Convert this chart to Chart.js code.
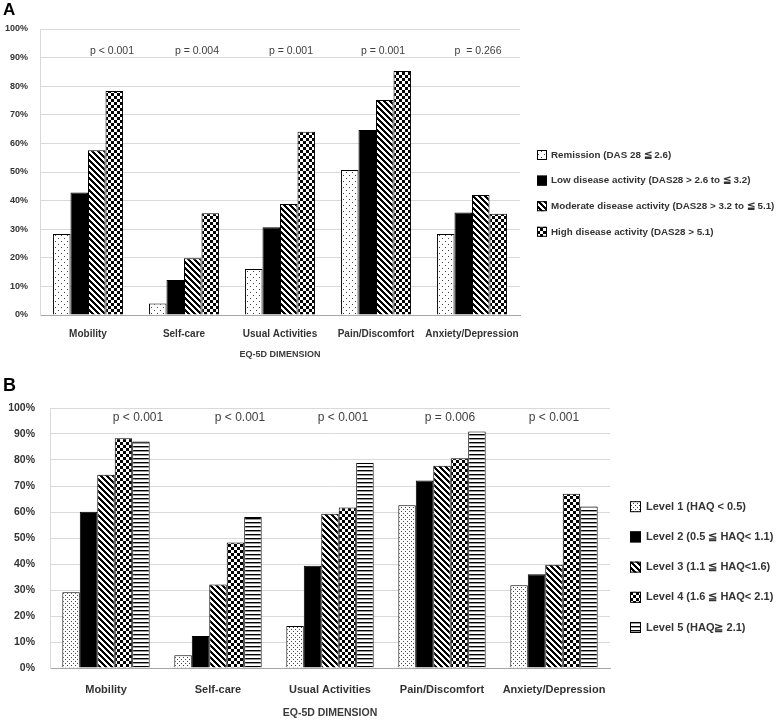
<!DOCTYPE html>
<html>
<head>
<meta charset="utf-8">
<script src="https://cdn.jsdelivr.net/npm/chart.js@4.4.1/dist/chart.umd.min.js"></script>
<style>
  html, body { margin: 0; padding: 0; background: #fff; }
  body { width: 778px; height: 722px; position: relative; overflow: hidden; font-family: "Liberation Sans", Arial, sans-serif; }
  .panel { position: absolute; left: 0; width: 778px; }
  #panelA { top: 0; height: 370px; }
  #panelB { top: 370px; height: 352px; }
  .tag { position: absolute; left: 3px; font-weight: bold; color: #000; line-height: 1; }
</style>
</head>
<body>
<div class="panel" id="panelA">
  <canvas id="chartA"></canvas>
  <div class="tag" style="top:1px;font-size:17px">A</div>
</div>
<div class="panel" id="panelB">
  <canvas id="chartB"></canvas>
  <div class="tag" style="top:6px;font-size:18px">B</div>
</div>
<script>
// Data (percent of patients reporting problems)
const dimensions = ['Mobility', 'Self-care', 'Usual Activities', 'Pain/Discomfort', 'Anxiety/Depression']

// A: DAS28 disease activity
const remission = [28.3, 4.0, 16.1, 50.7, 28.3]
const lowActivity = [42.8, 12.2, 30.7, 64.7, 35.8]
const moderateActivity = [57.6, 19.8, 38.8, 75.2, 42.0]
const highActivity = [78.3, 35.6, 64.1, 85.3, 35.4]
const dasLabels = [
  'Remission (DAS 28 \u2266 2.6)',
  'Low disease activity (DAS28 > 2.6 to \u2266 3.2)',
  'Moderate disease activity (DAS28 > 3.2 to \u2266 5.1)',
  'High disease activity (DAS28 > 5.1)'
]
const pValuesA = ['p < 0.001', 'p = 0.004', 'p = 0.001', 'p = 0.001', 'p  = 0.266']

// B: HAQ levels
const haqLevel1 = [29.1, 4.9, 16.2, 62.6, 31.8]
const haqLevel2 = [60.1, 12.3, 39.3, 72.1, 36.1]
const haqLevel3 = [74.3, 32.1, 59.3, 77.8, 39.7]
const haqLevel4 = [88.4, 48.3, 61.7, 80.7, 67.0]
const haqLevel5 = [87.1, 58.1, 78.8, 91.0, 62.1]
const haqLabels = [
  'Level 1 (HAQ < 0.5)',
  'Level 2 (0.5 \u2266 HAQ< 1.1)',
  'Level 3 (1.1 \u2266 HAQ<1.6)',
  'Level 4 (1.6 \u2266 HAQ< 2.1)',
  'Level 5 (HAQ\u2267 2.1)'
]
const pValuesB = ['p < 0.001', 'p < 0.001', 'p < 0.001', 'p = 0.006', 'p < 0.001']

const yTicks = [0, 10, 20, 30, 40, 50, 60, 70, 80, 90, 100]

Chart.defaults.font.family = '"Liberation Sans", Arial, sans-serif'

// fill patterns
function makePattern(size, draw) {
  const c = document.createElement('canvas')
  c.width = size
  c.height = size
  const g = c.getContext('2d')
  g.fillStyle = '#fff'
  g.fillRect(0, 0, size, size)
  g.fillStyle = '#000'
  draw(g, size)
  return g.createPattern(c, 'repeat')
}
const sparseDots = makePattern(6, g => { g.fillStyle = '#444'; g.fillRect(1, 1, 1, 1); g.fillRect(4, 4, 1, 1) })
const denseDots = makePattern(4, g => { g.fillStyle = '#444'; g.fillRect(1, 1, 1, 1); g.fillRect(3, 3, 1, 1) })
const solid = '#000'
const diagonal = makePattern(6, (g, s) => {
  for (let x = 0; x < s; x++) {
    for (let y = 0; y < s; y++) {
      if ((x - y + s) % s < 3) g.fillRect(x, y, 1, 1)
    }
  }
})
const checker = makePattern(6, g => { g.fillRect(0, 0, 3, 3); g.fillRect(3, 3, 3, 3) })
const hlines = makePattern(4, g => { g.fillRect(0, 0, 4, 1); g.fillStyle = '#999'; g.fillRect(0, 1, 4, 1) })

// legend drawn at the right of the plot
const sideLegend = {
  id: 'sideLegend',
  afterDraw(chart, args, opts) {
    const ctx = chart.ctx
    ctx.save()
    ctx.font = opts.font
    ctx.textBaseline = 'middle'
    chart.data.datasets.forEach((ds, i) => {
      const y = opts.top + i * opts.step
      ctx.fillStyle = ds.backgroundColor
      ctx.fillRect(opts.left, y - opts.box / 2, opts.box, opts.box)
      ctx.strokeStyle = '#000'
      ctx.lineWidth = 1
      ctx.strokeRect(opts.left + 0.5, y - opts.box / 2 + 0.5, opts.box - 1, opts.box - 1)
      ctx.fillStyle = opts.color
      ctx.fillText(ds.label, opts.left + opts.box + opts.gap, y)
    })
    ctx.restore()
  }
}

// p-value text above each group
const pLabels = {
  id: 'pLabels',
  afterDatasetsDraw(chart, args, opts) {
    const { ctx, scales: { x, y } } = chart
    ctx.save()
    ctx.font = opts.font
    ctx.fillStyle = opts.color
    ctx.textAlign = 'center'
    ctx.textBaseline = 'middle'
    opts.texts.forEach((t, i) => {
      ctx.fillText(t, x.getPixelForValue(i) + opts.shift[i], y.getPixelForValue(opts.level))
    })
    ctx.restore()
  }
}

function barSet(label, data, fill) {
  return { label, data, backgroundColor: fill, borderColor: '#000', borderWidth: 1, barPercentage: 1 }
}

function makeOptions(cfg) {
  return {
    responsive: true,
    maintainAspectRatio: false,
    animation: false,
    layout: { padding: { top: cfg.top, right: cfg.right, left: 0, bottom: 0 } },
    datasets: { bar: { categoryPercentage: cfg.catPct } },
    plugins: {
      legend: { display: false },
      tooltip: { enabled: false },
      sideLegend: cfg.legend,
      pLabels: cfg.p
    },
    scales: {
      x: {
        grid: { display: false, drawTicks: false },
        border: { color: '#a6a6a6' },
        ticks: {
          font: { weight: 'bold', size: cfg.xFont },
          color: '#333',
          padding: cfg.xPad,
          maxRotation: 0,
          minRotation: 0,
          autoSkip: false
        },
        title: {
          display: true,
          text: 'EQ-5D DIMENSION',
          font: { weight: 'bold', size: cfg.titleFont },
          color: '#3a3a3a',
          padding: { top: 0, bottom: cfg.titleBottom }
        },
        afterFit(s) { s.height = cfg.xHeight }
      },
      y: {
        min: 0,
        max: 100,
        afterBuildTicks(s) { s.ticks = yTicks.map(v => ({ value: v })) },
        ticks: { callback: v => v + '%', font: { weight: 'bold', size: cfg.yFont }, color: '#333', padding: cfg.yPad },
        grid: { color: '#d9d9d9', drawTicks: false },
        border: { color: '#d9d9d9' },
        afterFit(s) { s.width = cfg.yWidth }
      }
    }
  }
}

new Chart(document.getElementById('chartA'), {
  type: 'bar',
  data: {
    labels: dimensions,
    datasets: [
      barSet(dasLabels[0], remission, sparseDots),
      barSet(dasLabels[1], lowActivity, solid),
      barSet(dasLabels[2], moderateActivity, diagonal),
      barSet(dasLabels[3], highActivity, checker)
    ]
  },
  options: makeOptions({
    top: 29, right: 258, catPct: 0.73,
    xFont: 10, xPad: 13, titleFont: 9, titleBottom: 10, xHeight: 55,
    yFont: 9, yPad: 12, yWidth: 40,
    legend: { left: 537, top: 155, step: 25.6, box: 10, gap: 4, font: 'bold 9.8px "Liberation Sans", Arial, sans-serif', color: '#333' },
    p: { texts: pValuesA, shift: [24, 13, 11, 7, 6], level: 92.4, font: '10.5px "Liberation Sans", Arial, sans-serif', color: '#404040' }
  }),
  plugins: [sideLegend, pLabels]
})

new Chart(document.getElementById('chartB'), {
  type: 'bar',
  data: {
    labels: dimensions,
    datasets: [
      barSet(haqLabels[0], haqLevel1, denseDots),
      barSet(haqLabels[1], haqLevel2, solid),
      barSet(haqLabels[2], haqLevel3, diagonal),
      barSet(haqLabels[3], haqLevel4, checker),
      barSet(haqLabels[4], haqLevel5, hlines)
    ]
  },
  options: makeOptions({
    top: 38, right: 168, catPct: 0.78,
    xFont: 11, xPad: 15, titleFont: 10.5, titleBottom: 3, xHeight: 54,
    yFont: 10.5, yPad: 15, yWidth: 50,
    legend: { left: 630, top: 136.7, step: 30.2, box: 11, gap: 5, font: 'bold 11px "Liberation Sans", Arial, sans-serif', color: '#333' },
    p: { texts: pValuesB, shift: [32, 22, 13, 8, 0], level: 96.4, font: '12px "Liberation Sans", Arial, sans-serif', color: '#404040' }
  }),
  plugins: [sideLegend, pLabels]
})
</script>
</body>
</html>
